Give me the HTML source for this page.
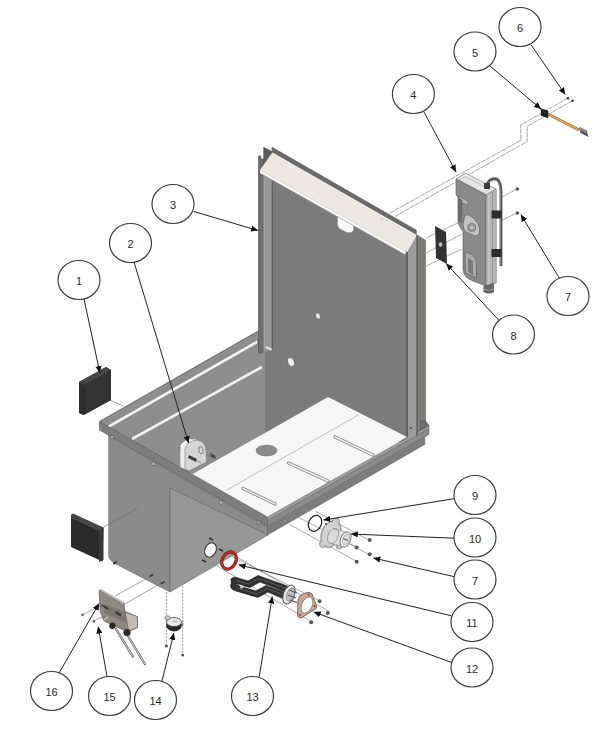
<!DOCTYPE html>
<html><head><meta charset="utf-8">
<style>
html,body{margin:0;padding:0;background:#fff;width:600px;height:729px;overflow:hidden}
svg{display:block}
text{font-family:"Liberation Sans",sans-serif;font-size:11px;fill:#2a2a2a;text-anchor:middle}
</style></head><body>
<svg width="600" height="729" viewBox="0 0 600 729">
<defs>
<marker id="ar" viewBox="0 0 10 9" refX="10" refY="4.5" markerWidth="7" markerHeight="6.3" markerUnits="userSpaceOnUse" orient="auto">
<path d="M0,0 L10,4.5 L0,9 z" fill="#111"/></marker>
</defs>
<rect width="600" height="729" fill="#fff"/>

<!-- ===== BACK PANEL (back-right wall) ===== -->
<polygon points="262,168 407,250 407,442 262,442" fill="#7b7b7b"/>
<!-- left inner wall (back-left) -->
<polygon points="99.5,421.5 261,329.5 265,332 265,433 193,474 120,450" fill="#8e8e8e"/>
<!-- upper white stripe (rim highlight) -->
<polygon points="108,425.5 257,340.5 257,343.5 108,428.5" fill="#f4f4f4"/>
<!-- lower stripe on inner wall -->
<polygon points="132,437.5 262,365.5 262,368.5 132,440.5" fill="#f2f2f2"/>
<!-- rim top band edge line -->
<line x1="99.5" y1="421.5" x2="261" y2="329.5" stroke="#6a6a6a" stroke-width="1"/>
<!-- floor / tray -->
<polygon points="193,474 328,397 407,437 268,517" fill="#f6f6f6"/>
<line x1="359" y1="414.5" x2="227" y2="490" stroke="#a8a8a8" stroke-width="0.7"/>
<ellipse cx="266.5" cy="450.5" rx="10.5" ry="5.5" fill="#8a8a8a" stroke="#6a6a6a" stroke-width="0.5"/>
<g stroke="#8a8a8a" stroke-width="3.2" stroke-linecap="round">
<line x1="335" y1="437" x2="373" y2="455"/>
<line x1="288.5" y1="463" x2="328" y2="481"/>
<line x1="243" y1="488.5" x2="275" y2="504"/>
</g>
<g stroke="#f0f0f0" stroke-width="1.4" stroke-linecap="round">
<line x1="335" y1="437" x2="373" y2="455"/>
<line x1="288.5" y1="463" x2="328" y2="481"/>
<line x1="243" y1="488.5" x2="275" y2="504"/>
</g>
<!-- holes in back panel -->
<ellipse cx="318" cy="316" rx="2.3" ry="3.3" transform="rotate(-20 318 316)" fill="#e8e8e8" stroke="#5a5a5a" stroke-width="0.6"/>
<ellipse cx="291" cy="362" rx="3.2" ry="4.6" transform="rotate(-20 291 362)" fill="#eeeeee" stroke="#5a5a5a" stroke-width="0.6"/>

<!-- ===== RIM outer faces ===== -->
<polygon points="267.5,526 429,434 424.75,437 424.75,444.5 267.5,535" fill="#7d7d7d" stroke="#5f5f5f" stroke-width="0.5"/>
<polygon points="267.5,520.5 429,428.5 429,434 267.5,526" fill="#8c8c8c" stroke="#666" stroke-width="0.5"/>
<polygon points="267.5,517 429,425.4 429,428.5 267.5,520.5" fill="#9d9d9d" stroke="#666" stroke-width="0.6"/>

<!-- ===== BOX EXTERIOR ===== -->
<path d="M108.7,430 L267.5,526 L267.5,535 L170,488 L170,592 L115,563.5 Q109,560 108.7,556 z" fill="#8b8b8b" stroke="#666" stroke-width="0.6"/>
<polygon points="170,488 268,535 170,592" fill="#979797" stroke="#666" stroke-width="0.6"/>
<!-- front-left rim face -->
<polygon points="99.5,421.5 267.5,517 267.5,526 99.5,430" fill="#7d7d7d" stroke="#5e5e5e" stroke-width="0.6"/>
<line x1="108.5" y1="436" x2="267.5" y2="528" stroke="#727272" stroke-width="0.5"/>
<!-- bolts -->
<g fill="#b5b5b5" stroke="#555" stroke-width="0.6">
<circle cx="153.5" cy="463.8" r="2"/>
<circle cx="221" cy="502.5" r="2"/>
<circle cx="258.5" cy="522.5" r="1.6"/>
<circle cx="112" cy="437" r="1.6"/>
<circle cx="285" cy="521" r="1.4"/>
</g>

<g stroke="#2a2a2a" stroke-width="1.6" stroke-linecap="round">
<line x1="150.2" y1="576.3" x2="152.7" y2="574.8"/>
<line x1="161.5" y1="583.5" x2="164" y2="582"/>
<line x1="113.8" y1="563.5" x2="116" y2="562"/>
</g>
<!-- ===== POSTS ===== -->
<polygon points="258.6,156.5 260.3,155.5 261,158.5 262.5,159.5 263.5,158 263.5,352 258.6,353.5" fill="#6f6f6f" stroke="#555" stroke-width="0.8"/>
<polygon points="263.5,147 272.3,151.5 272.3,349.5 263.5,352" fill="#989898"/>
<polygon points="263.5,147 272.3,151.5 272.3,153 262,171 260.5,170 263.5,158" fill="#5c5c5c"/>
<line x1="264.3" y1="168" x2="264.3" y2="349" stroke="#a8a8a8" stroke-width="1"/>
<line x1="272.3" y1="147" x2="272.3" y2="349.5" stroke="#5a5a5a" stroke-width="1.2"/>
<path d="M266,345.5 L271.5,348 Q273,350 271,351 L265.5,348.5 Q264.5,346.5 266,345.5 z" fill="#e0e0e0" stroke="#777" stroke-width="0.5"/>
<polygon points="407,252 416.2,236 416.2,436 407,437.5" fill="#9c9c9c"/>
<line x1="407.1" y1="252" x2="407.1" y2="437" stroke="#5f5f5f" stroke-width="1.6"/>
<polygon points="416.2,234 425.5,240 425.5,423 416.2,436" fill="#7e7b79"/>
<polygon points="420.4,420.4 425.7,421 429,425.4 420.4,430.5" fill="#6f6c6a" stroke="#555" stroke-width="0.5"/>
<line x1="417.1" y1="236" x2="417.1" y2="436" stroke="#5e5e5e" stroke-width="1.5"/>
<line x1="425.5" y1="240" x2="425.5" y2="422" stroke="#666" stroke-width="0.6"/>
<circle cx="410.8" cy="428" r="1.2" fill="#555"/>
<!-- cap -->
<polygon points="272.3,147 416.7,230 416.7,235 272.3,152.6" fill="#6a6a6a"/>
<polygon points="272.3,152.6 416.2,235.4 406.3,251.8 260,170" fill="#eee8e3"/>
<polygon points="260,170 406.3,251.8 405,254.5 260,173" fill="#f8f8f8"/>
<line x1="260" y1="173.5" x2="405" y2="255" stroke="#8a8a8a" stroke-width="0.8"/>
<path d="M337.5,216.5 L353.5,225.5 L353.5,230 Q352,234 346,232 L340,229 Q337.5,227.5 337.5,224 z" fill="#f9f9f9" stroke="#9a9a9a" stroke-width="0.5"/>
<g fill="#777"><circle cx="382" cy="219" r="0.6"/><circle cx="386.5" cy="220.5" r="0.6"/><circle cx="332.5" cy="222" r="0.6"/><circle cx="356.5" cy="237" r="0.6"/><circle cx="318" cy="302.5" r="0.8"/><circle cx="318" cy="327.5" r="0.8"/></g>


<!-- ===== PROJECTION LINES ===== -->
<g stroke="#6a6a6a" stroke-width="0.6" fill="none">
<line x1="110" y1="400" x2="123" y2="406"/>
<line x1="102" y1="528" x2="138" y2="508"/>
<line x1="115" y1="596" x2="153" y2="575"/>
<line x1="123" y1="605" x2="165" y2="581"/>
<line x1="84" y1="614" x2="101" y2="605.5"/>
<line x1="95" y1="620.5" x2="104" y2="616"/>
</g>
<g stroke="#777" stroke-width="0.7" fill="none" stroke-dasharray="2.2,1.2">
<line x1="166.4" y1="592" x2="166.4" y2="645"/>
<line x1="182.7" y1="586" x2="182.7" y2="654"/>
</g>
<g stroke="#8f8f8f" stroke-width="0.8" fill="none" stroke-dasharray="5,0.8">
<polyline points="568,98 520.8,125 520.8,140.3 390,213"/>
<polyline points="572.5,100.8 527.2,126.3 527.2,141.5 395,216.5"/>
</g>
<g stroke="#8a8a8a" stroke-width="0.7" fill="none">
<!-- part 4/8 lines -->
<line x1="426" y1="238" x2="462" y2="221"/>
<line x1="426" y1="253" x2="462" y2="234"/>
<line x1="426" y1="266" x2="462" y2="249"/>
<line x1="502" y1="197" x2="517" y2="189"/>
<line x1="502" y1="220" x2="517" y2="213"/>
<!-- 9/10/7 lines -->
<line x1="316" y1="511.5" x2="369.3" y2="540.3"/>
<line x1="290" y1="513" x2="357.3" y2="547.4"/>
<line x1="330" y1="533.4" x2="369.3" y2="554.6"/>
<line x1="290" y1="524.7" x2="357.3" y2="561.7"/>
<!-- 11/12/13 lines -->
<line x1="205" y1="538" x2="330" y2="612"/>
<line x1="200" y1="556" x2="312" y2="622"/>
<line x1="215" y1="548" x2="320" y2="601"/>
</g>

<!-- ===== PART 2 bracket ===== -->
<path d="M180,467 L180,450 Q180,442 190,439 L197,439 L186,449 L186,470 z" fill="#ececec" stroke="#8a8a8a" stroke-width="0.6"/>
<path d="M185,449 Q187,441 197,440 Q205,441 206,450 L206.5,462 L189,471 L185,469 z" fill="#d6d6d6" stroke="#7a7a7a" stroke-width="0.6"/>
<path d="M181,447 Q183,441 191,440" fill="none" stroke="#fff" stroke-width="1.5"/>
<path d="M189,455 L197,459 L196,462 L188,458 z" fill="#3a3a3a"/>
<line x1="196" y1="460" x2="201" y2="463" stroke="#888" stroke-width="1"/>
<path d="M199,447 Q202,445 203,449 L203,453 Q201,455 199,452 z" fill="none" stroke="#666" stroke-width="0.8"/>
<path d="M210,453 L215,455.5 L216,459 L211,457 z" fill="#4a4a4a"/>
<line x1="206.5" y1="455" x2="210" y2="456" stroke="#777" stroke-width="1"/>
<!-- ===== PART 9 o-ring ===== -->
<ellipse cx="315" cy="523.3" rx="6.3" ry="8.3" transform="rotate(25 315 523.3)" fill="none" stroke="#222" stroke-width="1.2"/>
<!-- ===== PART 10 flange ===== -->
<ellipse cx="331" cy="534" rx="9.5" ry="14" transform="rotate(22 331 534)" fill="#c9c9c9" stroke="#6f6f6f" stroke-width="0.7"/>
<circle cx="336" cy="521.5" r="3.5" fill="#c9c9c9" stroke="#6f6f6f" stroke-width="0.6"/>
<circle cx="323" cy="544" r="3.5" fill="#c9c9c9" stroke="#6f6f6f" stroke-width="0.6"/>
<circle cx="339" cy="546" r="3" fill="#c9c9c9" stroke="#6f6f6f" stroke-width="0.6"/>
<ellipse cx="331" cy="534" rx="8" ry="12.5" transform="rotate(22 331 534)" fill="#d2d2d2"/>
<path d="M330,528 L344,531.5 L349,547 L335,544 z" fill="#e0e0e0"/>
<ellipse cx="333" cy="536" rx="5" ry="8" transform="rotate(22 333 536)" fill="#dcdcdc" stroke="#777" stroke-width="0.6"/>
<line x1="333" y1="528.5" x2="346" y2="532" stroke="#888" stroke-width="0.6"/>
<line x1="330" y1="543.5" x2="343" y2="547" stroke="#888" stroke-width="0.6"/>
<ellipse cx="345.5" cy="539.5" rx="5" ry="8" transform="rotate(22 345.5 539.5)" fill="#efefef" stroke="#6a6a6a" stroke-width="0.8"/>
<ellipse cx="346" cy="539.5" rx="3.2" ry="5.8" transform="rotate(22 346 539.5)" fill="#dcdcdc" stroke="#999" stroke-width="0.5"/>
<line x1="343" y1="538.5" x2="348" y2="540.5" stroke="#555" stroke-width="1"/>
<circle cx="326" cy="524" r="1.2" fill="#777"/>
<!-- nuts 7 -->
<g fill="#5a5a5a">
<circle cx="369.7" cy="540" r="2"/>
<circle cx="356.7" cy="547.5" r="2"/>
<circle cx="369.7" cy="554.2" r="2"/>
<circle cx="356.7" cy="561.7" r="2"/>
</g>

<!-- ===== hole + ring 11 ===== -->
<ellipse cx="210.5" cy="550" rx="5.5" ry="7.5" transform="rotate(25 210.5 550)" fill="#f6f6f6" stroke="#333" stroke-width="1"/>
<g stroke="#333" stroke-width="1.4">
<line x1="209" y1="538" x2="213" y2="540"/>
<line x1="219" y1="549" x2="223" y2="551"/>
<line x1="202" y1="560" x2="206" y2="562"/>
</g>
<ellipse cx="229" cy="560.5" rx="6.8" ry="9" transform="rotate(28 229 560.5)" fill="none" stroke="#5a1a1a" stroke-width="3.2"/>
<ellipse cx="229" cy="560.5" rx="6.8" ry="9" transform="rotate(28 229 560.5)" fill="none" stroke="#c42828" stroke-width="2.2"/>

<!-- ===== PART 13 element ===== -->
<path d="M236,584 Q230,583 231,579 Q233,576 238,578 L248,581 L258,575.5 L290,587 L288,593 L260,582 L250,587.5 z" fill="#303030" stroke="#1a1a1a" stroke-width="0.6"/>
<path d="M236,585 L256,591 L266,585.5 L289,594 L286,600 L268,592 L258,597.5 L236,591 Q229,589 231,584 z" fill="#303030" stroke="#1a1a1a" stroke-width="0.6"/>
<path d="M231,581 Q230,587 236,590 L240,589 L236,584 z" fill="#303030"/>
<path d="M239,584 L245,586.5 L241,589 z" fill="#cfcfcf"/>
<g stroke="#777" stroke-width="0.6" fill="none">
<path d="M236,580.5 L249,584 L259,578.5 L289,589.5"/>
<path d="M237,588 L257,594 L267,588.5 L288,596.5"/>
</g>
<ellipse cx="289" cy="594.5" rx="5.5" ry="10" transform="rotate(20 289 594.5)" fill="#e6e6e6" stroke="#555" stroke-width="1"/>
<ellipse cx="290.5" cy="594.5" rx="3.6" ry="7" transform="rotate(20 290.5 594.5)" fill="#bdbdbd" stroke="#777" stroke-width="0.6"/>
<g stroke="#555" stroke-width="1.3">
<line x1="289" y1="590" x2="297" y2="593"/>
<line x1="288" y1="595" x2="296" y2="598"/>
<line x1="290" y1="600" x2="297" y2="602.5"/>
</g>
<!-- ===== PART 12 gasket ===== -->
<path d="M307,592.5 Q310,591.5 312,594 L316,604.5 Q318,607 315.5,609 L302,617.5 Q299,619 297.5,616 L298,600 Q298.5,596 302,594.5 z" fill="#c9a594" stroke="#6b5040" stroke-width="0.8"/>
<ellipse cx="307" cy="605" rx="5.2" ry="8.6" transform="rotate(25 307 605)" fill="#fff" stroke="#8a6a5a" stroke-width="0.7"/>
<circle cx="309" cy="594.5" r="1" fill="#6b5040"/>
<circle cx="314.5" cy="606" r="1" fill="#6b5040"/>
<circle cx="300" cy="615" r="1" fill="#6b5040"/>
<g fill="#555">
<circle cx="319.5" cy="601.3" r="2"/>
<circle cx="327.7" cy="613" r="2"/>
<circle cx="311.2" cy="622.2" r="2"/>
</g>

<!-- ===== PART 16 bracket ===== -->
<polygon points="99.1,590 124.1,604.2 125,611.5 137.4,616.7 137.4,627.5 128,632 104,621 100.3,612" fill="#8f8983" stroke="#4f4a45" stroke-width="0.6"/>
<polygon points="99.1,590 101,589 125.5,603 124.1,604.2" fill="#bdb6af"/>
<polygon points="125,612 137.4,616.7 137.4,627.5 128.5,631 127,621" fill="#c4bcb4" stroke="#5a554f" stroke-width="0.5"/>
<polygon points="104,613 125,622 127,621 125,612 104,604" fill="#7d7771"/>
<g fill="#3a3632">
<polygon points="101.5,604 108.5,608 108.5,610 101.5,606"/>
<polygon points="115.5,611 121,614 121,616.5 115.5,613.5"/>
</g>
<line x1="104" y1="620" x2="108" y2="617" stroke="#ddd" stroke-width="1"/>
<g stroke="#555" stroke-width="2.2" stroke-linecap="round"><line x1="116" y1="629" x2="132.8" y2="656.5"/><line x1="128" y1="636" x2="144.8" y2="664"/></g>
<g stroke="#ddd" stroke-width="1" stroke-linecap="round"><line x1="116" y1="629" x2="132.8" y2="656.5"/><line x1="128" y1="636" x2="144.8" y2="664"/></g>
<circle cx="112.4" cy="625.8" r="3.2" fill="#2a2a2a"/>
<circle cx="127" cy="632.5" r="3.6" fill="#2a2a2a"/>
<circle cx="82.6" cy="614.7" r="1.2" fill="#555"/>
<circle cx="93.8" cy="621.2" r="1.2" fill="#555"/>
<!-- ===== PART 14 thermostat ===== -->
<path d="M166,624 Q166,631 174,631.5 Q182,631 182,624 z" fill="#262626"/>
<ellipse cx="180.5" cy="624.5" rx="2.5" ry="1.8" fill="none" stroke="#555" stroke-width="0.7"/>
<ellipse cx="174" cy="622" rx="7.5" ry="4.5" fill="#eaeaea" stroke="#444" stroke-width="0.8"/>
<ellipse cx="174.5" cy="621.5" rx="3" ry="1.6" fill="#cfcfcf"/>
<ellipse cx="167.5" cy="617.8" rx="2.8" ry="2" fill="#ccc" stroke="#666" stroke-width="0.7"/>
<circle cx="166.4" cy="646" r="1.5" fill="#555"/>
<circle cx="182.7" cy="655" r="1.5" fill="#555"/>

<!-- ===== PART 4 switch ===== -->
<polygon points="456,179 465.4,173 496,189 486,195" fill="#e6e6e6" stroke="#6a6a6a" stroke-width="0.6"/>
<polygon points="459,180 465,176.5 490,189.5 484,193" fill="none" stroke="#9a9a9a" stroke-width="0.5"/>
<path d="M456,179 L486,195 L486,286 L473,281 Q464,278 463,270 L463,231 L461,229 L458,223 L458,197 L456,195 z" fill="#8a8a8a" stroke="#5a5a5a" stroke-width="0.6"/>
<polygon points="486,195 496.3,189 496.3,283 486,286" fill="#b5b5b5" stroke="#6a6a6a" stroke-width="0.5"/>
<line x1="489" y1="194" x2="489" y2="285" stroke="#d0d0d0" stroke-width="1"/>
<line x1="492.5" y1="192" x2="492.5" y2="284" stroke="#8a8a8a" stroke-width="0.6"/>
<path d="M486,186 Q490,177 497,179 Q501,182 501,192 L501,266" fill="none" stroke="#555" stroke-width="2.8"/>
<path d="M486.5,186 Q490,179 496.5,180.5 Q500,183.5 500.3,192 L500.3,265" fill="none" stroke="#9a9a9a" stroke-width="0.8"/>
<rect x="484" y="183" width="6" height="6" fill="#3a3a3a"/>
<rect x="491.5" y="210.5" width="10" height="8" fill="#2e2e2e"/>
<rect x="491.5" y="249" width="10" height="8" fill="#2e2e2e"/>
<path d="M458,196 L466,200 Q469,202 468,205 L462,203 z" fill="#b5b5b5" stroke="#555" stroke-width="0.5"/>
<path d="M458.5,198 L462,200 L462,222 L458.5,221 z" fill="#6e6e6e" stroke="#555" stroke-width="0.4"/>
<path d="M465,215 Q468,214 472,217 Q479,222 479.6,230 Q480,236 475,236 L466,232 Q463,230 463,224 z" fill="#c2c2c2" stroke="#555" stroke-width="0.6"/>
<circle cx="471.8" cy="227.5" r="4" fill="#a9a9a9" stroke="#555" stroke-width="0.7"/>
<circle cx="471.8" cy="227.5" r="1.8" fill="#dcdcdc" stroke="#666" stroke-width="0.5"/>
<path d="M465,253 Q467,252 471,254 Q476,257 476.5,262 L476.5,278 L465.5,273 z" fill="#a9a9a9" stroke="#555" stroke-width="0.6"/>
<path d="M468,258 L473,261 L473,275 L468,272 z" fill="#7a7a7a"/>
<path d="M483.5,286 L494,283 L494,292 Q489,295 483.5,292 z" fill="#666"/>
<path d="M483.5,289 Q489,292 494,289" fill="none" stroke="#aaa" stroke-width="0.8"/>
<!-- nuts 7 top -->
<circle cx="517.4" cy="189" r="1.8" fill="#555"/>
<circle cx="517.4" cy="213" r="1.8" fill="#555"/>
<!-- ===== PART 8 gasket ===== -->
<polygon points="435,226 446,232 447,264 436,258" fill="#333"/>
<ellipse cx="440.5" cy="244.5" rx="1.8" ry="2.2" fill="#bbb"/>
<!-- ===== PART 5 & 6 ===== -->
<line x1="548" y1="114" x2="579" y2="130" stroke="#a06a30" stroke-width="3"/>
<line x1="548" y1="114" x2="579" y2="130" stroke="#e0a560" stroke-width="1.6"/>
<polygon points="540.8,108.3 548.3,110.8 548.3,118.3 540.8,115.8" fill="#222"/>
<polygon points="579,128 587,132 588.5,137 580.5,133" fill="#555"/>
<polygon points="577.5,129 580,127 588,131 586,133" fill="#888"/>
<circle cx="568" cy="98.3" r="1.3" fill="#333"/>
<circle cx="572.5" cy="100.8" r="1.3" fill="#333"/>

<!-- ===== PART 1 and loose block ===== -->
<polygon points="79,382 106,367 111,370 111,400 83,415 79,413" fill="#2e2e2e"/>
<polygon points="79,382 106,367 111,370 84,385" fill="#474747"/>
<polygon points="84,385 111,370 111,400 84,415" fill="#333"/>
<line x1="84" y1="385" x2="84" y2="415" stroke="#222" stroke-width="0.6"/>
<polygon points="71,515 73,514 103.5,528 102.5,561.5 71,547" fill="#2b2b2b"/>
<polygon points="71,515 73,513.5 103.5,527.5 99,531 71,518" fill="#474747"/>
<polygon points="99,531 103.5,527.5 103.5,560 99,562" fill="#383838"/>
<!-- ===== CALLOUTS ===== -->
<g fill="none" stroke="#3a3a3a" stroke-width="1.15">
<ellipse cx="79" cy="280" rx="21" ry="19.5"/>
<ellipse cx="130.5" cy="243" rx="21" ry="19.5"/>
<ellipse cx="173" cy="204" rx="21" ry="19.5"/>
<ellipse cx="413.4" cy="94" rx="21" ry="19.5"/>
<ellipse cx="475" cy="51.5" rx="21" ry="19.5"/>
<ellipse cx="520" cy="27" rx="21" ry="19.5"/>
<ellipse cx="568" cy="296" rx="21" ry="19.5"/>
<ellipse cx="513.5" cy="334.5" rx="21" ry="19.5"/>
<ellipse cx="475" cy="495" rx="21" ry="19.5"/>
<ellipse cx="475" cy="537.5" rx="21" ry="19.5"/>
<ellipse cx="475" cy="579.5" rx="21" ry="19.5"/>
<ellipse cx="472" cy="622" rx="21" ry="19.5"/>
<ellipse cx="472" cy="667.5" rx="21" ry="19.5"/>
<ellipse cx="252.5" cy="696" rx="21" ry="19.5"/>
<ellipse cx="155.5" cy="700" rx="21" ry="19.5"/>
<ellipse cx="109.5" cy="696" rx="21" ry="19.5"/>
<ellipse cx="51.5" cy="691" rx="21" ry="19.5"/>
</g>
<g>
<text x="79" y="285.2">1</text>
<text x="130.5" y="248.2">2</text>
<text x="173" y="209.2">3</text>
<text x="413.4" y="99.2">4</text>
<text x="475" y="56.7">5</text>
<text x="520" y="32.2">6</text>
<text x="568" y="301.2">7</text>
<text x="513.5" y="339.7">8</text>
<text x="475" y="500.2">9</text>
<text x="475" y="542.7">10</text>
<text x="475" y="584.7">7</text>
<text x="472" y="627.2">11</text>
<text x="472" y="672.7">12</text>
<text x="252.5" y="701.2">13</text>
<text x="155.5" y="705.2">14</text>
<text x="109.5" y="701.2">15</text>
<text x="51.5" y="696.2">16</text>
</g>
<g stroke="#222" stroke-width="1" fill="none" marker-end="url(#ar)">
<line x1="84" y1="299" x2="99.9" y2="373"/>
<line x1="134" y1="262" x2="188.5" y2="443"/>
<line x1="194" y1="211.5" x2="258" y2="230.5"/>
<line x1="424" y1="112" x2="456" y2="172"/>
<line x1="490" y1="66" x2="541" y2="109"/>
<line x1="531.2" y1="45" x2="565.3" y2="94.6"/>
<line x1="559.3" y1="278" x2="520.8" y2="214.5"/>
<line x1="498.7" y1="320" x2="446.2" y2="263.6"/>
<line x1="454" y1="498.7" x2="323.3" y2="520"/>
<line x1="454" y1="538.2" x2="350.8" y2="534"/>
<line x1="454" y1="576.6" x2="373.3" y2="558"/>
<line x1="451.4" y1="615.8" x2="238.5" y2="564.8"/>
<line x1="451.4" y1="662.4" x2="313.7" y2="612"/>
<line x1="259.2" y1="676.8" x2="272.3" y2="596.5"/>
<line x1="162" y1="681" x2="173.9" y2="633"/>
<line x1="107" y1="676.5" x2="98.2" y2="626.6"/>
<line x1="59.2" y1="672.8" x2="99.2" y2="603.3"/>
</g>
</svg>
</body></html>
